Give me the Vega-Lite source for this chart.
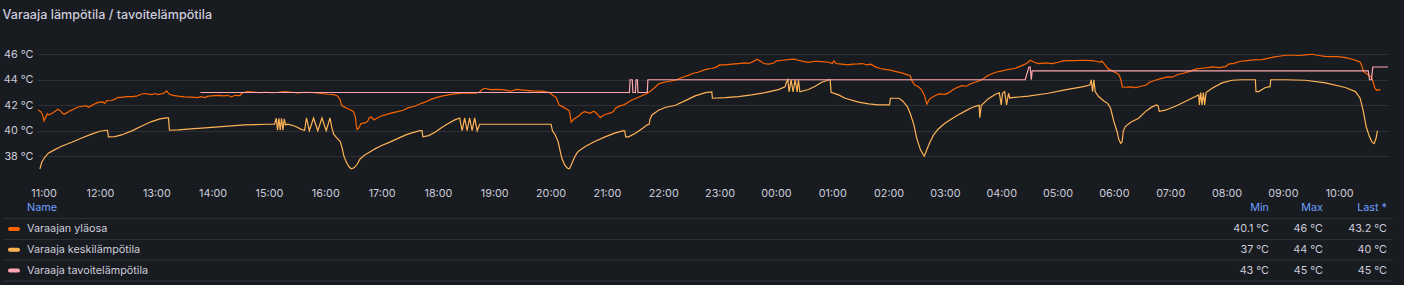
{
  "$schema": "https://vega.github.io/schema/vega-lite/v6.json",
  "background": "#181b1f",
  "autosize": "none",
  "width": 1350,
  "height": 239,
  "padding": {"left": 38, "right": 16, "top": 42, "bottom": 4},
  "title": {"text": "Varaaja lämpötila / tavoitelämpötila", "anchor": "start", "font": "Inter", "fontSize": 12.6, "fontWeight": 500, "color": "#CCCCDC", "offset": 20},
  "config": {
    "view": {"stroke": null},
    "axis": {"domain": false, "ticks": false, "labelColor": "#CCCCDC", "labelFont": "Inter", "labelFontSize": 10.8, "gridColor": "#CCCCDC", "gridOpacity": 0.12}
  },
  "datasets": {
    "hours": [
      {"time":"2024-01-01T11:00"},{"time":"2024-01-01T12:00"},{"time":"2024-01-01T13:00"},{"time":"2024-01-01T14:00"},{"time":"2024-01-01T15:00"},{"time":"2024-01-01T16:00"},{"time":"2024-01-01T17:00"},{"time":"2024-01-01T18:00"},{"time":"2024-01-01T19:00"},{"time":"2024-01-01T20:00"},{"time":"2024-01-01T21:00"},{"time":"2024-01-01T22:00"},{"time":"2024-01-01T23:00"},
      {"time":"2024-01-02T00:00"},{"time":"2024-01-02T01:00"},{"time":"2024-01-02T02:00"},{"time":"2024-01-02T03:00"},{"time":"2024-01-02T04:00"},{"time":"2024-01-02T05:00"},{"time":"2024-01-02T06:00"},{"time":"2024-01-02T07:00"},{"time":"2024-01-02T08:00"},{"time":"2024-01-02T09:00"},{"time":"2024-01-02T10:00"}
    ],
    "ylaosa": [
      {"time":"2024-01-01T10:54","temp":41.63},{"time":"2024-01-01T10:57","temp":41.50},{"time":"2024-01-01T10:59","temp":41.19},{"time":"2024-01-01T11:00:30","temp":40.77},{"time":"2024-01-01T11:02","temp":41.03},{"time":"2024-01-01T11:04","temp":41.32},{"time":"2024-01-01T11:06","temp":41.24},{"time":"2024-01-01T11:09","temp":41.37},{"time":"2024-01-01T11:13","temp":41.56},{"time":"2024-01-01T11:15","temp":41.69},{"time":"2024-01-01T11:18","temp":41.56},{"time":"2024-01-01T11:20","temp":41.37},{"time":"2024-01-01T11:22","temp":41.29},{"time":"2024-01-01T11:25","temp":41.42},{"time":"2024-01-01T11:28","temp":41.56},{"time":"2024-01-01T11:32","temp":41.69},{"time":"2024-01-01T11:36","temp":41.84},{"time":"2024-01-01T11:40","temp":41.90},{"time":"2024-01-01T11:45","temp":41.97},{"time":"2024-01-01T11:48","temp":41.84},{"time":"2024-01-01T11:51","temp":41.97},{"time":"2024-01-01T11:55","temp":42.13},{"time":"2024-01-01T11:59","temp":42.24},{"time":"2024-01-01T12:03","temp":42.26},{"time":"2024-01-01T12:05","temp":42.13},{"time":"2024-01-01T12:07","temp":42.34},{"time":"2024-01-01T12:12","temp":42.37},{"time":"2024-01-01T12:15","temp":42.44},{"time":"2024-01-01T12:19","temp":42.60},{"time":"2024-01-01T12:24","temp":42.63},{"time":"2024-01-01T12:29","temp":42.68},{"time":"2024-01-01T12:34","temp":42.68},{"time":"2024-01-01T12:39","temp":42.71},{"time":"2024-01-01T12:44","temp":42.86},{"time":"2024-01-01T12:48","temp":42.92},{"time":"2024-01-01T12:55","temp":42.84},{"time":"2024-01-01T12:59","temp":42.92},{"time":"2024-01-01T13:02","temp":42.84},{"time":"2024-01-01T13:08","temp":42.94},{"time":"2024-01-01T13:11","temp":43.12},{"time":"2024-01-01T13:14","temp":42.86},{"time":"2024-01-01T13:18","temp":42.78},{"time":"2024-01-01T13:23","temp":42.71},{"time":"2024-01-01T13:30","temp":42.65},{"time":"2024-01-01T13:37","temp":42.63},{"time":"2024-01-01T13:44","temp":42.60},{"time":"2024-01-01T13:47","temp":42.68},{"time":"2024-01-01T13:52","temp":42.60},{"time":"2024-01-01T13:55","temp":42.71},{"time":"2024-01-01T13:59","temp":42.73},{"time":"2024-01-01T14:06","temp":42.78},{"time":"2024-01-01T14:12","temp":42.73},{"time":"2024-01-01T14:16","temp":42.78},{"time":"2024-01-01T14:20","temp":42.65},{"time":"2024-01-01T14:24","temp":42.78},{"time":"2024-01-01T14:29","temp":42.76},{"time":"2024-01-01T14:31","temp":42.92},{"time":"2024-01-01T14:34","temp":43.02},{"time":"2024-01-01T14:37","temp":43.07},{"time":"2024-01-01T14:41","temp":43.05},{"time":"2024-01-01T14:49","temp":42.99},{"time":"2024-01-01T14:56","temp":43.02},{"time":"2024-01-01T15:03","temp":42.99},{"time":"2024-01-01T15:10","temp":43.02},{"time":"2024-01-01T15:17","temp":43.07},{"time":"2024-01-01T15:24","temp":43.02},{"time":"2024-01-01T15:31","temp":42.97},{"time":"2024-01-01T15:38","temp":43.02},{"time":"2024-01-01T15:49","temp":42.99},{"time":"2024-01-01T15:56","temp":42.92},{"time":"2024-01-01T16:03","temp":42.86},{"time":"2024-01-01T16:09","temp":42.84},{"time":"2024-01-01T16:13","temp":42.73},{"time":"2024-01-01T16:16","temp":42.42},{"time":"2024-01-01T16:17","temp":42.03},{"time":"2024-01-01T16:20","temp":41.87},{"time":"2024-01-01T16:23","temp":41.76},{"time":"2024-01-01T16:27","temp":41.63},{"time":"2024-01-01T16:30","temp":41.50},{"time":"2024-01-01T16:32","temp":41.11},{"time":"2024-01-01T16:33","temp":40.46},{"time":"2024-01-01T16:34","temp":40.10},{"time":"2024-01-01T16:36","temp":40.25},{"time":"2024-01-01T16:38","temp":40.56},{"time":"2024-01-01T16:42","temp":40.61},{"time":"2024-01-01T16:45","temp":40.72},{"time":"2024-01-01T16:47","temp":41.03},{"time":"2024-01-01T16:49","temp":41.08},{"time":"2024-01-01T16:52","temp":40.85},{"time":"2024-01-01T16:55","temp":40.98},{"time":"2024-01-01T16:59","temp":41.14},{"time":"2024-01-01T17:04","temp":41.24},{"time":"2024-01-01T17:11","temp":41.40},{"time":"2024-01-01T17:17","temp":41.50},{"time":"2024-01-01T17:23","temp":41.61},{"time":"2024-01-01T17:28","temp":41.79},{"time":"2024-01-01T17:35","temp":41.92},{"time":"2024-01-01T17:40","temp":42.08},{"time":"2024-01-01T17:46","temp":42.24},{"time":"2024-01-01T17:52","temp":42.44},{"time":"2024-01-01T17:58","temp":42.60},{"time":"2024-01-01T18:04","temp":42.71},{"time":"2024-01-01T18:11","temp":42.81},{"time":"2024-01-01T18:18","temp":42.89},{"time":"2024-01-01T18:25","temp":42.94},{"time":"2024-01-01T18:32","temp":42.94},{"time":"2024-01-01T18:40","temp":42.94},{"time":"2024-01-01T18:44","temp":43.02},{"time":"2024-01-01T18:47","temp":43.23},{"time":"2024-01-01T18:50","temp":43.33},{"time":"2024-01-01T18:56","temp":43.23},{"time":"2024-01-01T19:04","temp":43.25},{"time":"2024-01-01T19:11","temp":43.20},{"time":"2024-01-01T19:17","temp":43.10},{"time":"2024-01-01T19:24","temp":43.25},{"time":"2024-01-01T19:31","temp":43.18},{"time":"2024-01-01T19:40","temp":43.12},{"time":"2024-01-01T19:50","temp":43.10},{"time":"2024-01-01T19:58","temp":43.02},{"time":"2024-01-01T20:02","temp":42.81},{"time":"2024-01-01T20:06","temp":42.60},{"time":"2024-01-01T20:09","temp":42.03},{"time":"2024-01-01T20:13","temp":41.87},{"time":"2024-01-01T20:17","temp":41.71},{"time":"2024-01-01T20:20","temp":41.56},{"time":"2024-01-01T20:21","temp":41.11},{"time":"2024-01-01T20:22","temp":40.67},{"time":"2024-01-01T20:25","temp":40.93},{"time":"2024-01-01T20:30","temp":41.16},{"time":"2024-01-01T20:33","temp":41.37},{"time":"2024-01-01T20:36","temp":41.50},{"time":"2024-01-01T20:40","temp":41.42},{"time":"2024-01-01T20:42","temp":41.37},{"time":"2024-01-01T20:46","temp":41.53},{"time":"2024-01-01T20:49","temp":41.37},{"time":"2024-01-01T20:51","temp":41.19},{"time":"2024-01-01T20:53","temp":41.03},{"time":"2024-01-01T20:56","temp":41.19},{"time":"2024-01-01T20:59","temp":41.29},{"time":"2024-01-01T21:04","temp":41.40},{"time":"2024-01-01T21:07","temp":41.50},{"time":"2024-01-01T21:09","temp":41.76},{"time":"2024-01-01T21:14","temp":41.95},{"time":"2024-01-01T21:18","temp":42.03},{"time":"2024-01-01T21:21","temp":42.16},{"time":"2024-01-01T21:26","temp":42.39},{"time":"2024-01-01T21:31","temp":42.55},{"time":"2024-01-01T21:36","temp":42.71},{"time":"2024-01-01T21:41","temp":42.86},{"time":"2024-01-01T21:46","temp":43.07},{"time":"2024-01-01T21:51","temp":43.39},{"time":"2024-01-01T21:55","temp":43.67},{"time":"2024-01-01T21:58","temp":43.75},{"time":"2024-01-01T22:05","temp":43.86},{"time":"2024-01-01T22:13","temp":43.96},{"time":"2024-01-01T22:18","temp":44.12},{"time":"2024-01-01T22:23","temp":44.25},{"time":"2024-01-01T22:28","temp":44.38},{"time":"2024-01-01T22:32","temp":44.51},{"time":"2024-01-01T22:37","temp":44.59},{"time":"2024-01-01T22:43","temp":44.75},{"time":"2024-01-01T22:48","temp":44.85},{"time":"2024-01-01T22:52","temp":44.88},{"time":"2024-01-01T22:57","temp":45.01},{"time":"2024-01-01T23:00","temp":45.16},{"time":"2024-01-01T23:06","temp":45.16},{"time":"2024-01-01T23:13","temp":45.22},{"time":"2024-01-01T23:20","temp":45.27},{"time":"2024-01-01T23:27","temp":45.32},{"time":"2024-01-01T23:31","temp":45.29},{"time":"2024-01-01T23:34","temp":45.37},{"time":"2024-01-01T23:37","temp":45.48},{"time":"2024-01-01T23:40","temp":45.61},{"time":"2024-01-01T23:43","temp":45.48},{"time":"2024-01-01T23:47","temp":45.27},{"time":"2024-01-01T23:52","temp":45.22},{"time":"2024-01-01T23:57","temp":45.29},
      {"time":"2024-01-02T00:01","temp":45.48},{"time":"2024-01-02T00:07","temp":45.53},{"time":"2024-01-02T00:13","temp":45.58},{"time":"2024-01-02T00:19","temp":45.61},{"time":"2024-01-02T00:24","temp":45.53},{"time":"2024-01-02T00:30","temp":45.42},{"time":"2024-01-02T00:35","temp":45.37},{"time":"2024-01-02T00:42","temp":45.45},{"time":"2024-01-02T00:49","temp":45.42},{"time":"2024-01-02T00:56","temp":45.37},{"time":"2024-01-02T01:00","temp":45.27},{"time":"2024-01-02T01:02","temp":45.48},{"time":"2024-01-02T01:04","temp":45.27},{"time":"2024-01-02T01:10","temp":45.22},{"time":"2024-01-02T01:17","temp":45.16},{"time":"2024-01-02T01:22","temp":45.22},{"time":"2024-01-02T01:28","temp":45.24},{"time":"2024-01-02T01:32","temp":45.27},{"time":"2024-01-02T01:37","temp":45.16},{"time":"2024-01-02T01:41","temp":45.22},{"time":"2024-01-02T01:46","temp":45.01},{"time":"2024-01-02T01:51","temp":44.88},{"time":"2024-01-02T01:56","temp":44.82},{"time":"2024-01-02T02:02","temp":44.75},{"time":"2024-01-02T02:08","temp":44.64},{"time":"2024-01-02T02:14","temp":44.54},{"time":"2024-01-02T02:20","temp":44.38},{"time":"2024-01-02T02:23","temp":44.33},{"time":"2024-01-02T02:25","temp":43.91},{"time":"2024-01-02T02:28","temp":43.59},{"time":"2024-01-02T02:32","temp":43.44},{"time":"2024-01-02T02:35","temp":43.23},{"time":"2024-01-02T02:38","temp":42.81},{"time":"2024-01-02T02:40","temp":42.29},{"time":"2024-01-02T02:41","temp":42.08},{"time":"2024-01-02T02:43","temp":42.42},{"time":"2024-01-02T02:46","temp":42.60},{"time":"2024-01-02T02:50","temp":42.76},{"time":"2024-01-02T02:54","temp":42.89},{"time":"2024-01-02T03:00","temp":42.86},{"time":"2024-01-02T03:04","temp":42.97},{"time":"2024-01-02T03:09","temp":43.23},{"time":"2024-01-02T03:13","temp":43.39},{"time":"2024-01-02T03:18","temp":43.54},{"time":"2024-01-02T03:23","temp":43.49},{"time":"2024-01-02T03:27","temp":43.67},{"time":"2024-01-02T03:32","temp":43.80},{"time":"2024-01-02T03:37","temp":43.93},{"time":"2024-01-02T03:41","temp":44.07},{"time":"2024-01-02T03:44","temp":44.25},{"time":"2024-01-02T03:49","temp":44.43},{"time":"2024-01-02T03:54","temp":44.59},{"time":"2024-01-02T04:01","temp":44.69},{"time":"2024-01-02T04:07","temp":44.80},{"time":"2024-01-02T04:15","temp":44.90},{"time":"2024-01-02T04:22","temp":45.11},{"time":"2024-01-02T04:27","temp":45.27},{"time":"2024-01-02T04:31","temp":45.53},{"time":"2024-01-02T04:35","temp":45.37},{"time":"2024-01-02T04:40","temp":45.27},{"time":"2024-01-02T04:47","temp":45.32},{"time":"2024-01-02T04:54","temp":45.27},{"time":"2024-01-02T05:01","temp":45.37},{"time":"2024-01-02T05:06","temp":45.48},{"time":"2024-01-02T05:12","temp":45.50},{"time":"2024-01-02T05:19","temp":45.50},{"time":"2024-01-02T05:26","temp":45.53},{"time":"2024-01-02T05:37","temp":45.50},{"time":"2024-01-02T05:41","temp":45.45},{"time":"2024-01-02T05:46","temp":45.37},{"time":"2024-01-02T05:47","temp":45.48},{"time":"2024-01-02T05:49","temp":45.32},{"time":"2024-01-02T05:54","temp":44.85},{"time":"2024-01-02T06:01","temp":44.59},{"time":"2024-01-02T06:05","temp":44.43},{"time":"2024-01-02T06:07","temp":44.12},{"time":"2024-01-02T06:09","temp":43.44},{"time":"2024-01-02T06:12","temp":43.41},{"time":"2024-01-02T06:18","temp":43.44},{"time":"2024-01-02T06:23","temp":43.39},{"time":"2024-01-02T06:29","temp":43.49},{"time":"2024-01-02T06:34","temp":43.57},{"time":"2024-01-02T06:38","temp":43.80},{"time":"2024-01-02T06:44","temp":43.96},{"time":"2024-01-02T06:50","temp":44.09},{"time":"2024-01-02T06:57","temp":44.22},{"time":"2024-01-02T07:02","temp":44.20},{"time":"2024-01-02T07:08","temp":44.41},{"time":"2024-01-02T07:14","temp":44.51},{"time":"2024-01-02T07:20","temp":44.64},{"time":"2024-01-02T07:28","temp":44.85},{"time":"2024-01-02T07:34","temp":44.90},{"time":"2024-01-02T07:40","temp":44.95},{"time":"2024-01-02T07:45","temp":45.01},{"time":"2024-01-02T07:52","temp":44.95},{"time":"2024-01-02T07:59","temp":45.03},{"time":"2024-01-02T08:02","temp":45.22},{"time":"2024-01-02T08:08","temp":45.29},{"time":"2024-01-02T08:15","temp":45.45},{"time":"2024-01-02T08:22","temp":45.50},{"time":"2024-01-02T08:29","temp":45.56},{"time":"2024-01-02T08:38","temp":45.58},{"time":"2024-01-02T08:45","temp":45.69},{"time":"2024-01-02T08:51","temp":45.79},{"time":"2024-01-02T08:56","temp":45.84},{"time":"2024-01-02T09:03","temp":45.92},{"time":"2024-01-02T09:10","temp":45.92},{"time":"2024-01-02T09:17","temp":45.90},{"time":"2024-01-02T09:24","temp":45.95},{"time":"2024-01-02T09:31","temp":46.00},{"time":"2024-01-02T09:38","temp":45.90},{"time":"2024-01-02T09:45","temp":45.84},{"time":"2024-01-02T09:52","temp":45.82},{"time":"2024-01-02T09:59","temp":45.82},{"time":"2024-01-02T10:07","temp":45.74},{"time":"2024-01-02T10:14","temp":45.61},{"time":"2024-01-02T10:19","temp":45.48},{"time":"2024-01-02T10:22","temp":45.42},{"time":"2024-01-02T10:24","temp":45.11},{"time":"2024-01-02T10:26","temp":44.64},{"time":"2024-01-02T10:29","temp":44.48},{"time":"2024-01-02T10:31","temp":44.38},{"time":"2024-01-02T10:34","temp":44.25},{"time":"2024-01-02T10:36","temp":43.86},{"time":"2024-01-02T10:38","temp":43.33},{"time":"2024-01-02T10:40","temp":43.18},{"time":"2024-01-02T10:42","temp":43.23},{"time":"2024-01-02T10:44","temp":43.20}
    ],
    "keski": [
      {"time":"2024-01-01T10:56","temp":37.00},{"time":"2024-01-01T10:58","temp":37.53},{"time":"2024-01-01T11:01","temp":37.90},{"time":"2024-01-01T11:05","temp":38.24},{"time":"2024-01-01T11:12","temp":38.52},{"time":"2024-01-01T11:19","temp":38.78},{"time":"2024-01-01T11:30","temp":39.10},{"time":"2024-01-01T11:40","temp":39.41},{"time":"2024-01-01T11:51","temp":39.73},{"time":"2024-01-01T12:00","temp":39.96},{"time":"2024-01-01T12:07","temp":40.04},{"time":"2024-01-01T12:08","temp":40.04},{"time":"2024-01-01T12:09","temp":39.52},{"time":"2024-01-01T12:16","temp":39.54},{"time":"2024-01-01T12:23","temp":39.67},{"time":"2024-01-01T12:34","temp":39.99},{"time":"2024-01-01T12:44","temp":40.35},{"time":"2024-01-01T12:55","temp":40.72},{"time":"2024-01-01T13:04","temp":40.93},{"time":"2024-01-01T13:11","temp":41.01},{"time":"2024-01-01T13:13","temp":41.01},{"time":"2024-01-01T13:14","temp":40.04},{"time":"2024-01-01T13:23","temp":40.07},{"time":"2024-01-01T13:37","temp":40.14},{"time":"2024-01-01T13:52","temp":40.22},{"time":"2024-01-01T14:13","temp":40.35},{"time":"2024-01-01T14:34","temp":40.46},{"time":"2024-01-01T14:59","temp":40.51},{"time":"2024-01-01T15:06","temp":40.51},{"time":"2024-01-01T15:07:47","temp":40.98},{"time":"2024-01-01T15:09:12","temp":40.04},{"time":"2024-01-01T15:10:36","temp":40.98},{"time":"2024-01-01T15:12:00","temp":40.04},{"time":"2024-01-01T15:13:24","temp":40.98},{"time":"2024-01-01T15:14:54","temp":40.04},{"time":"2024-01-01T15:16:18","temp":40.93},{"time":"2024-01-01T15:17:42","temp":40.46},{"time":"2024-01-01T15:20","temp":40.51},{"time":"2024-01-01T15:28","temp":40.35},{"time":"2024-01-01T15:35","temp":40.09},{"time":"2024-01-01T15:38","temp":40.04},{"time":"2024-01-01T15:40","temp":41.00},{"time":"2024-01-01T15:43","temp":40.00},{"time":"2024-01-01T15:47:30","temp":41.00},{"time":"2024-01-01T15:52","temp":40.00},{"time":"2024-01-01T15:56:30","temp":41.00},{"time":"2024-01-01T16:01","temp":40.00},{"time":"2024-01-01T16:05","temp":41.00},{"time":"2024-01-01T16:07","temp":40.25},{"time":"2024-01-01T16:09","temp":39.73},{"time":"2024-01-01T16:12","temp":39.46},{"time":"2024-01-01T16:16","temp":39.15},{"time":"2024-01-01T16:18","temp":38.63},{"time":"2024-01-01T16:20","temp":37.97},{"time":"2024-01-01T16:23","temp":37.45},{"time":"2024-01-01T16:26","temp":37.11},{"time":"2024-01-01T16:28","temp":37.01},{"time":"2024-01-01T16:31","temp":37.11},{"time":"2024-01-01T16:34","temp":37.37},{"time":"2024-01-01T16:37","temp":37.79},{"time":"2024-01-01T16:42","temp":38.10},{"time":"2024-01-01T16:47","temp":38.31},{"time":"2024-01-01T16:53","temp":38.58},{"time":"2024-01-01T17:00","temp":38.84},{"time":"2024-01-01T17:07","temp":39.05},{"time":"2024-01-01T17:14","temp":39.28},{"time":"2024-01-01T17:21","temp":39.52},{"time":"2024-01-01T17:28","temp":39.73},{"time":"2024-01-01T17:36","temp":39.91},{"time":"2024-01-01T17:41","temp":40.01},{"time":"2024-01-01T17:43","temp":40.01},{"time":"2024-01-01T17:44","temp":39.52},{"time":"2024-01-01T17:50","temp":39.62},{"time":"2024-01-01T17:57","temp":39.88},{"time":"2024-01-01T18:04","temp":40.25},{"time":"2024-01-01T18:11","temp":40.56},{"time":"2024-01-01T18:18","temp":40.85},{"time":"2024-01-01T18:23:06","temp":41.00},{"time":"2024-01-01T18:25:48","temp":40.00},{"time":"2024-01-01T18:28:30","temp":41.00},{"time":"2024-01-01T18:31:06","temp":40.00},{"time":"2024-01-01T18:33:48","temp":41.00},{"time":"2024-01-01T18:36:24","temp":40.00},{"time":"2024-01-01T18:39:06","temp":41.00},{"time":"2024-01-01T18:41:48","temp":40.00},{"time":"2024-01-01T18:44:24","temp":40.51},{"time":"2024-01-01T20:00:30","temp":40.51},{"time":"2024-01-01T20:02","temp":39.99},{"time":"2024-01-01T20:05","temp":39.67},{"time":"2024-01-01T20:08","temp":39.15},{"time":"2024-01-01T20:10","temp":38.47},{"time":"2024-01-01T20:12","temp":37.84},{"time":"2024-01-01T20:15","temp":37.32},{"time":"2024-01-01T20:18","temp":37.06},{"time":"2024-01-01T20:20","temp":37.01},{"time":"2024-01-01T20:22","temp":37.32},{"time":"2024-01-01T20:25","temp":37.84},{"time":"2024-01-01T20:28","temp":38.24},{"time":"2024-01-01T20:30","temp":38.42},{"time":"2024-01-01T20:37","temp":38.76},{"time":"2024-01-01T20:47","temp":39.15},{"time":"2024-01-01T20:58","temp":39.52},{"time":"2024-01-01T21:09","temp":39.83},{"time":"2024-01-01T21:18","temp":40.01},{"time":"2024-01-01T21:19","temp":39.99},{"time":"2024-01-01T21:20","temp":39.52},{"time":"2024-01-01T21:23","temp":39.52},{"time":"2024-01-01T21:30","temp":39.78},{"time":"2024-01-01T21:37","temp":40.14},{"time":"2024-01-01T21:43","temp":40.46},{"time":"2024-01-01T21:45","temp":40.51},{"time":"2024-01-01T21:46","temp":40.93},{"time":"2024-01-01T21:48","temp":41.24},{"time":"2024-01-01T21:55","temp":41.61},{"time":"2024-01-01T22:02","temp":41.82},{"time":"2024-01-01T22:13","temp":42.00},{"time":"2024-01-01T22:23","temp":42.34},{"time":"2024-01-01T22:34","temp":42.73},{"time":"2024-01-01T22:45","temp":42.99},{"time":"2024-01-01T22:51:42","temp":43.05},{"time":"2024-01-01T22:52:24","temp":42.55},{"time":"2024-01-01T23:06","temp":42.60},{"time":"2024-01-01T23:20","temp":42.68},{"time":"2024-01-01T23:34","temp":42.81},{"time":"2024-01-01T23:48:30","temp":42.99},
      {"time":"2024-01-02T00:02:42","temp":43.23},{"time":"2024-01-02T00:09:48","temp":43.44},{"time":"2024-01-02T00:11:12","temp":43.80},{"time":"2024-01-02T00:12:42","temp":44.00},{"time":"2024-01-02T00:14:06","temp":43.05},{"time":"2024-01-02T00:16:12","temp":44.00},{"time":"2024-01-02T00:18:18","temp":43.05},{"time":"2024-01-02T00:20:30","temp":44.00},{"time":"2024-01-02T00:22:36","temp":43.05},{"time":"2024-01-02T00:24:00","temp":44.00},{"time":"2024-01-02T00:25:30","temp":43.05},{"time":"2024-01-02T00:34:42","temp":43.23},{"time":"2024-01-02T00:41:48","temp":43.49},{"time":"2024-01-02T00:48:54","temp":43.80},{"time":"2024-01-02T00:56:42","temp":44.00},{"time":"2024-01-02T00:57:48","temp":44.00},{"time":"2024-01-02T00:58:48","temp":43.02},{"time":"2024-01-02T01:06:42","temp":42.81},{"time":"2024-01-02T01:13:48","temp":42.55},{"time":"2024-01-02T01:28","temp":42.24},{"time":"2024-01-02T01:39","temp":42.10},{"time":"2024-01-02T01:49","temp":42.03},{"time":"2024-01-02T02:01","temp":42.03},{"time":"2024-01-02T02:02","temp":42.55},{"time":"2024-01-02T02:11","temp":42.55},{"time":"2024-01-02T02:15","temp":42.34},{"time":"2024-01-02T02:20","temp":41.90},{"time":"2024-01-02T02:23","temp":41.37},{"time":"2024-01-02T02:27","temp":40.46},{"time":"2024-01-02T02:30","temp":39.41},{"time":"2024-01-02T02:34","temp":38.50},{"time":"2024-01-02T02:38","temp":38.00},{"time":"2024-01-02T02:40","temp":38.37},{"time":"2024-01-02T02:44","temp":39.10},{"time":"2024-01-02T02:48","temp":39.67},{"time":"2024-01-02T02:53","temp":40.14},{"time":"2024-01-02T03:00","temp":40.59},{"time":"2024-01-02T03:07","temp":40.93},{"time":"2024-01-02T03:14","temp":41.24},{"time":"2024-01-02T03:22","temp":41.56},{"time":"2024-01-02T03:29","temp":41.82},{"time":"2024-01-02T03:35","temp":41.97},{"time":"2024-01-02T03:36:30","temp":42.00},{"time":"2024-01-02T03:37:12","temp":41.03},{"time":"2024-01-02T03:38:42","temp":41.97},{"time":"2024-01-02T03:46","temp":42.50},{"time":"2024-01-02T03:54","temp":42.86},{"time":"2024-01-02T03:58","temp":42.97},{"time":"2024-01-02T04:00","temp":42.03},{"time":"2024-01-02T04:01:24","temp":42.94},{"time":"2024-01-02T04:03:36","temp":43.07},{"time":"2024-01-02T04:05:42","temp":42.03},{"time":"2024-01-02T04:07:48","temp":42.94},{"time":"2024-01-02T04:09:12","temp":42.55},{"time":"2024-01-02T04:11:24","temp":42.60},{"time":"2024-01-02T04:29","temp":42.71},{"time":"2024-01-02T04:50","temp":42.94},{"time":"2024-01-02T05:08","temp":43.20},{"time":"2024-01-02T05:26","temp":43.44},{"time":"2024-01-02T05:34:30","temp":43.59},{"time":"2024-01-02T05:35:54","temp":44.00},{"time":"2024-01-02T05:37:18","temp":43.07},{"time":"2024-01-02T05:38:42","temp":44.00},{"time":"2024-01-02T05:40:06","temp":43.07},{"time":"2024-01-02T05:43:42","temp":42.68},{"time":"2024-01-02T05:49:24","temp":42.34},{"time":"2024-01-02T05:53:36","temp":42.13},{"time":"2024-01-02T05:56:30","temp":41.76},{"time":"2024-01-02T06:00","temp":40.72},{"time":"2024-01-02T06:03:36","temp":39.88},{"time":"2024-01-02T06:05:06","temp":39.36},{"time":"2024-01-02T06:07:12","temp":39.02},{"time":"2024-01-02T06:08:42","temp":39.10},{"time":"2024-01-02T06:10:06","temp":39.99},{"time":"2024-01-02T06:12:12","temp":40.33},{"time":"2024-01-02T06:17:54","temp":40.67},{"time":"2024-01-02T06:26:24","temp":40.98},{"time":"2024-01-02T06:33:30","temp":41.50},{"time":"2024-01-02T06:40:36","temp":41.87},{"time":"2024-01-02T06:45:36","temp":42.03},{"time":"2024-01-02T06:47:00","temp":41.97},{"time":"2024-01-02T06:48:24","temp":41.53},{"time":"2024-01-02T06:54:48","temp":41.61},{"time":"2024-01-02T07:05:30","temp":41.92},{"time":"2024-01-02T07:16:06","temp":42.29},{"time":"2024-01-02T07:26:48","temp":42.68},{"time":"2024-01-02T07:30:18","temp":42.81},{"time":"2024-01-02T07:31:06","temp":42.03},{"time":"2024-01-02T07:32:30","temp":42.99},{"time":"2024-01-02T07:33:54","temp":42.03},{"time":"2024-01-02T07:35:18","temp":42.99},{"time":"2024-01-02T07:36:42","temp":42.03},{"time":"2024-01-02T07:38:12","temp":42.99},{"time":"2024-01-02T07:44:36","temp":43.33},{"time":"2024-01-02T07:55:12","temp":43.75},{"time":"2024-01-02T08:05:54","temp":43.96},{"time":"2024-01-02T08:16:30","temp":44.00},{"time":"2024-01-02T08:30:42","temp":44.00},{"time":"2024-01-02T08:31:24","temp":43.07},{"time":"2024-01-02T08:34:18","temp":43.07},{"time":"2024-01-02T08:41:24","temp":43.39},{"time":"2024-01-02T08:46:24","temp":43.46},{"time":"2024-01-02T08:47:06","temp":44.00},{"time":"2024-01-02T09:02:42","temp":44.00},{"time":"2024-01-02T09:24:00","temp":43.96},{"time":"2024-01-02T09:45:18","temp":43.75},{"time":"2024-01-02T10:06:36","temp":43.39},{"time":"2024-01-02T10:17:18","temp":43.07},{"time":"2024-01-02T10:22:18","temp":42.55},{"time":"2024-01-02T10:25:48","temp":41.50},{"time":"2024-01-02T10:28:42","temp":40.33},{"time":"2024-01-02T10:32:12","temp":39.54},{"time":"2024-01-02T10:35:06","temp":39.10},{"time":"2024-01-02T10:37:12","temp":38.99},{"time":"2024-01-02T10:39:18","temp":39.41},{"time":"2024-01-02T10:40:42","temp":40.00}
    ],
    "tavoite": [
      {"time":"2024-01-01T13:47","temp":43},{"time":"2024-01-01T21:24","temp":43},{"time":"2024-01-01T21:24:40","temp":44},{"time":"2024-01-01T21:27","temp":44},{"time":"2024-01-01T21:27:40","temp":43},{"time":"2024-01-01T21:30:20","temp":43},{"time":"2024-01-01T21:31","temp":44},{"time":"2024-01-01T21:32:30","temp":44},{"time":"2024-01-01T21:33","temp":43},{"time":"2024-01-01T21:43","temp":43},{"time":"2024-01-01T21:43:40","temp":44},
      {"time":"2024-01-02T04:25:36","temp":44},{"time":"2024-01-02T04:29:30","temp":45},{"time":"2024-01-02T04:30:54","temp":45},{"time":"2024-01-02T04:32:00","temp":44},{"time":"2024-01-02T04:33:00","temp":44.7},{"time":"2024-01-02T10:31","temp":44.7},{"time":"2024-01-02T10:32:18","temp":44},{"time":"2024-01-02T10:34:24","temp":44},{"time":"2024-01-02T10:35:48","temp":45},{"time":"2024-01-02T10:52","temp":45}
    ],
    "legendrows": [
      {"row":"Name","kind":"header","name":"Name","min":"Min","max":"Max","last":"Last *"},
      {"row":"Varaajan yläosa","kind":"series","name":"Varaajan yläosa","min":"40.1 °C","max":"46 °C","last":"43.2 °C"},
      {"row":"Varaaja keskilämpötila","kind":"series","name":"Varaaja keskilämpötila","min":"37 °C","max":"44 °C","last":"40 °C"},
      {"row":"Varaaja tavoitelämpötila","kind":"series","name":"Varaaja tavoitelämpötila","min":"43 °C","max":"45 °C","last":"45 °C"}
    ]
  },
  "resolve": {"scale": {"x": "independent", "y": "independent", "color": "independent"}},
  "layer": [
    {
      "encoding": {
        "x": {"field": "time", "type": "temporal", "scale": {"nice": false},
              "axis": {"title": null, "format": "%H:%M", "tickCount": 24, "labelPadding": 7, "labelFlush": false, "labelOverlap": false, "grid": false, "offset": -101}},
        "y": {"field": "temp", "type": "quantitative",
              "scale": {"domain": [28.215, 46.96], "nice": false, "zero": false},
              "axis": {"title": null, "values": [38, 40, 42, 44, 46], "labelExpr": "datum.value + ' °C'", "labelPadding": 5, "grid": true}}
      },
      "layer": [
        {"data": {"name": "hours"}, "mark": {"type": "rule", "color": "#CCCCDC", "opacity": 0.12, "strokeWidth": 1},
         "encoding": {"y": {"datum": 36.14, "type": "quantitative", "axis": {"title": null, "values": [38, 40, 42, 44, 46], "labelExpr": "datum.value + ' °C'", "labelPadding": 5, "grid": true}}, "y2": {"datum": 46.96}}},
        {"data": {"name": "ylaosa"}, "mark": {"type": "line", "strokeWidth": 1.2},
         "encoding": {"color": {"datum": "Varaajan yläosa", "type": "nominal", "scale": {"domain": ["Varaajan yläosa", "Varaaja keskilämpötila", "Varaaja tavoitelämpötila"], "range": ["#FA6400", "#FFB357", "#FFA6B0"]}, "legend": null}}},
        {"data": {"name": "keski"}, "mark": {"type": "line", "strokeWidth": 1.2}, "encoding": {"color": {"datum": "Varaaja keskilämpötila", "type": "nominal", "legend": null}}},
        {"data": {"name": "tavoite"}, "mark": {"type": "line", "strokeWidth": 1.2}, "encoding": {"color": {"datum": "Varaaja tavoitelämpötila", "type": "nominal", "legend": null}}}
      ]
    },
    {
      "data": {"name": "legendrows"},
      "encoding": {
        "y": {"field": "row", "type": "nominal", "scale": {"type": "band", "domain": ["Name", "Varaajan yläosa", "Varaaja keskilämpötila", "Varaaja tavoitelämpötila"], "range": [155.8, 239], "paddingInner": 0, "paddingOuter": 0}, "axis": null},
        "x": {"datum": 0, "type": "quantitative", "scale": {"domain": [0, 1], "nice": false, "zero": false}, "axis": null}
      },
      "layer": [
        {"mark": {"type": "rule", "color": "#CCCCDC", "opacity": 0.12, "strokeWidth": 1, "xOffset": -35, "x2Offset": 5},
         "encoding": {"y": {"field": "row", "type": "nominal", "bandPosition": 1, "axis": null}, "x2": {"datum": 1}}},
        {"transform": [{"filter": "datum.kind == 'series'"}],
         "mark": {"type": "rule", "strokeWidth": 4, "strokeCap": "round", "xOffset": -28, "x2Offset": -20},
         "encoding": {"y": {"field": "row", "type": "nominal", "bandPosition": 0.5, "axis": null}, "x2": {"datum": 0},
                      "color": {"field": "name", "type": "nominal", "scale": {"domain": ["Varaajan yläosa", "Varaaja keskilämpötila", "Varaaja tavoitelämpötila"], "range": ["#FA6400", "#FFB357", "#FFA6B0"]}, "legend": null}}},
        {"mark": {"type": "text", "align": "left", "baseline": "middle", "dx": -11, "fontSize": 10.8, "font": "Inter"},
         "encoding": {"y": {"field": "row", "type": "nominal", "bandPosition": 0.5, "axis": null}, "text": {"field": "name"},
                      "color": {"condition": {"test": "datum.kind == 'header'", "value": "#6E9FFF"}, "value": "#CCCCDC"}}},
        {"mark": {"type": "text", "align": "right", "baseline": "middle", "dx": -119, "fontSize": 10.8, "font": "Inter"},
         "encoding": {"x": {"datum": 1, "type": "quantitative", "axis": null}, "y": {"field": "row", "type": "nominal", "bandPosition": 0.5, "axis": null}, "text": {"field": "min"},
                      "color": {"condition": {"test": "datum.kind == 'header'", "value": "#6E9FFF"}, "value": "#CCCCDC"}}},
        {"mark": {"type": "text", "align": "right", "baseline": "middle", "dx": -65, "fontSize": 10.8, "font": "Inter"},
         "encoding": {"x": {"datum": 1, "type": "quantitative", "axis": null}, "y": {"field": "row", "type": "nominal", "bandPosition": 0.5, "axis": null}, "text": {"field": "max"},
                      "color": {"condition": {"test": "datum.kind == 'header'", "value": "#6E9FFF"}, "value": "#CCCCDC"}}},
        {"mark": {"type": "text", "align": "right", "baseline": "middle", "dx": -1, "fontSize": 10.8, "font": "Inter"},
         "encoding": {"x": {"datum": 1, "type": "quantitative", "axis": null}, "y": {"field": "row", "type": "nominal", "bandPosition": 0.5, "axis": null}, "text": {"field": "last"},
                      "color": {"condition": {"test": "datum.kind == 'header'", "value": "#6E9FFF"}, "value": "#CCCCDC"}}}
      ]
    }
  ]
}
